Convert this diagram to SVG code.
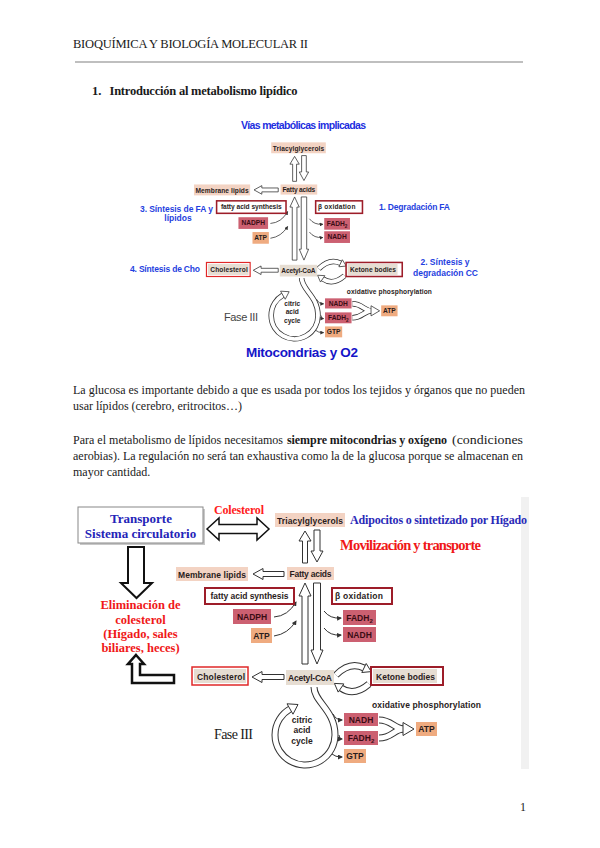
<svg xmlns="http://www.w3.org/2000/svg" width="600" height="848" viewBox="0 0 600 848">
<defs>
<style>
.serif{font-family:"Liberation Serif","Times New Roman",serif;fill:#1a1a1a}
.lbl{font-family:"Liberation Sans",Arial,sans-serif;font-weight:bold;font-size:8.5px;fill:#2a1c1c;text-anchor:middle}
.lbls{font-family:"Liberation Sans",Arial,sans-serif;font-weight:bold;font-size:8.5px;fill:#2a1c1c}
.rl{font-family:"Liberation Sans",Arial,sans-serif;font-weight:bold;font-size:8.5px;fill:#3a0c14;text-anchor:middle}
.peach{fill:#f3d3c3}
.beige{fill:#e6ddd2}
.rose{fill:#cc6071}
.orng{fill:#efab80}
.dred{fill:#fff;stroke:#9d1d29;stroke-width:2}
.blk{fill:#fff;stroke:#333;stroke-width:1}
.bo{fill:none;stroke:#333;stroke-width:7}
.bi{fill:none;stroke:#fff;stroke-width:5}
.thin{fill:none;stroke:#333;stroke-width:1;marker-end:url(#ah)}
.blue{font-family:"Liberation Sans",Arial,sans-serif;font-weight:bold}
.bs{font-family:"Liberation Serif","Times New Roman",serif;font-weight:bold}
</style>
<marker id="ah" viewBox="0 0 10 10" refX="8" refY="5" markerWidth="5" markerHeight="5" orient="auto"><path d="M0,0 L10,5 L0,10 z" fill="#333"/></marker>
</defs>
<rect width="600" height="848" fill="#fff"/>

<g id="page-text">
<text class="serif" x="73" y="48" font-size="12.5" textLength="235">BIOQUÍMICA Y BIOLOGÍA MOLECULAR II</text>
<line x1="75" y1="62" x2="523" y2="62" stroke="#aaa" stroke-width="1.5"/>
<text class="serif" x="92" y="95" font-size="12.5" font-weight="bold">1.</text>
<text class="serif" x="109.5" y="95" font-size="12.5" font-weight="bold" textLength="188">Introducción al metabolismo lipídico</text>
<text class="serif" x="73" y="394" font-size="12" textLength="452">La glucosa es importante debido a que es usada por todos los tejidos y órganos que no pueden</text>
<text class="serif" x="73" y="410" font-size="12" textLength="169">usar lípidos (cerebro, eritrocitos…)</text>
<text class="serif" x="73" y="444" font-size="12" textLength="210">Para el metabolismo de lípidos necesitamos</text>
<text class="serif" x="287" y="444" font-size="12" font-weight="bold" textLength="160">siempre mitocondrias y oxígeno</text>
<text class="serif" x="452" y="444" font-size="12" textLength="71" lengthAdjust="spacingAndGlyphs">(condiciones</text>
<text class="serif" x="73" y="460" font-size="12" textLength="450">aerobias). La regulación no será tan exhaustiva como la de la glucosa porque se almacenan en</text>
<text class="serif" x="73" y="476" font-size="12">mayor cantidad.</text>
<text class="serif" x="520" y="811" font-size="12">1</text>
</g>

<!-- ===== TOP DIAGRAM ===== -->
<g id="top-diagram">
<g transform="matrix(0.78 0 0 0.78 56.7 -257.8)">
<g id="t-connectors">
<polygon class="blk" points="305,531 311,541 307.5,541 307.5,563 302.5,563 302.5,541 299,541"/>
<polygon class="blk" points="314,530 320,530 320,551 323,551 317,562 311,551 314,551"/>
<polygon class="blk" points="253,574 263,568.5 263,571.5 284,571.5 284,576.5 263,576.5 263,579.5"/>
<polygon class="blk" points="305,583 311,596 308,596 308,664 302,664 302,596 299,596"/>
<polygon class="blk" points="313.5,583 320.5,583 320.5,650 323,650 317,664 311,650 313.5,650"/>
<polygon class="blk" points="252,677 262,671.5 262,674.5 284,674.5 284,679.5 262,679.5 262,682.5"/>
<path class="thin" d="M274,617 Q288,616 296,602"/>
<path class="thin" d="M274,636 Q288,634 296,621"/>
<path class="thin" d="M324,611 Q330,619 341,618"/>
<path class="thin" d="M324,628 Q330,636 341,635"/>
<path class="bo" d="M336,675 Q350,661 364,668"/><path class="bi" d="M336,675 Q350,661 364,668"/>
<polygon class="blk" points="366.2,663.5 371.2,671.6 361.8,672.5"/>
<path class="bo" d="M369,684 Q354,697 341,688"/><path class="bi" d="M369,684 Q354,697 341,688"/>
<polygon class="blk" points="343.8,683.9 334.4,683.4 338.2,692.1"/>
<path class="bo" d="M314,687 C314,702 335,710 335,735 A30,30 0 1 1 290,709"/>
<path class="bi" d="M314,687 C314,702 335,710 335,735 A30,30 0 1 1 290,709"/>
<polygon class="blk" points="293,714.2 298,704.5 287,703.8"/>
<path class="thin" d="M333,714 Q336,720 342,720"/>
<path class="thin" d="M339,735 Q339,739 342,739"/>
<path class="thin" d="M332,754 Q335,757 342,757"/>
<path class="bo" d="M379,720 C392,720 394,729 404,729"/><path class="bo" d="M379,738 C392,738 394,729 404,729"/>
<path class="bi" d="M379,720 C392,720 394,729 404,729"/><path class="bi" d="M379,738 C392,738 394,729 404,729"/>
<polygon class="blk" points="403,722.5 414,729 403,735.5"/>
</g>
<g id="t-triacylglycerols"><rect class="peach" x="275" y="513" width="70" height="14"/><text class="lbl" x="310" y="523.5" textLength="66">Triacylglycerols</text></g>
<g id="t-fatty-acids"><rect class="peach" x="287" y="567" width="47" height="13"/><text class="lbl" x="310.5" y="576.8" textLength="42">Fatty acids</text></g>
<g id="t-membrane-lipids"><rect class="peach" x="176" y="567" width="72" height="14"/><text class="lbl" x="212" y="577.5" textLength="68">Membrane lipids</text></g>
<g id="t-fa-synthesis"><rect class="dred" x="205" y="588" width="89" height="16"/><text class="lbl" x="249.5" y="599" textLength="78">fatty acid synthesis</text></g>
<g id="t-b-oxidation"><rect class="dred" x="332" y="588" width="60" height="16"/><text class="lbls" x="335" y="599" textLength="48">β oxidation</text></g>
<g id="t-nadph"><rect class="rose" x="233" y="609" width="38" height="15"/><text class="rl" x="252" y="619.5">NADPH</text></g>
<g id="t-atp1"><rect class="orng" x="251" y="628" width="21" height="15"/><text class="lbl" x="261.5" y="638.5">ATP</text></g>
<g id="t-fadh2a"><rect class="rose" x="343" y="610" width="33" height="15"/><text class="rl" x="359.5" y="620.5">FADH<tspan font-size="6" dy="2">2</tspan></text></g>
<g id="t-nadha"><rect class="rose" x="343" y="627" width="33" height="15"/><text class="rl" x="359.5" y="637.5">NADH</text></g>
<g id="t-cholesterol"><rect x="192" y="667" width="56" height="18" fill="#fff" stroke="#e02828" stroke-width="1.5"/><rect class="beige" x="194" y="669" width="52" height="14"/><text class="lbl" x="221" y="679.5" textLength="48">Cholesterol</text></g>
<g id="t-acetyl-coa"><rect class="beige" x="286" y="670" width="48" height="15"/><text class="lbl" x="310" y="680.5" textLength="44">Acetyl-CoA</text></g>
<g id="t-ketone-bodies"><rect class="dred" x="371" y="667" width="72" height="18"/><rect class="beige" x="373" y="669" width="64" height="14"/><text class="lbls" x="376" y="679.5" textLength="59">Ketone bodies</text></g>
<g id="t-oxphos"><text class="lbls" x="372" y="708" textLength="109" fill="#333">oxidative phosphorylation</text></g>
<g id="t-nadhb"><rect class="rose" x="344" y="713" width="34" height="13"/><text class="rl" x="361" y="722.5">NADH</text></g>
<g id="t-fadh2b"><rect class="rose" x="344" y="731" width="34" height="14"/><text class="rl" x="361" y="741">FADH<tspan font-size="6" dy="2">2</tspan></text></g>
<g id="t-gtp"><rect class="orng" x="344" y="749" width="22" height="14"/><text class="lbl" x="355" y="759">GTP</text></g>
<g id="t-atp2"><rect class="orng" x="416" y="722" width="21" height="14"/><text class="lbl" x="426.5" y="732">ATP</text></g>
<g id="t-cycle"><text class="lbl" x="302" y="723">citric</text><text class="lbl" x="302" y="733">acid</text><text class="lbl" x="302" y="744">cycle</text></g>
</g>
<g id="t-labels" fill="#1f3fe0" font-size="8.5">
<text class="blue" x="303.5" y="129" font-size="10.5" fill="#1c2ee0" text-anchor="middle" textLength="125">Vías metabólicas implicadas</text>
<text class="blue" x="140" y="212" textLength="73">3. Síntesis de FA y</text>
<text class="blue" x="178" y="220.5" text-anchor="middle">lípidos</text>
<text class="blue" x="379" y="210" textLength="71">1. Degradación FA</text>
<text class="blue" x="130" y="272" textLength="70">4. Síntesis de Cho</text>
<text class="blue" x="445" y="265" text-anchor="middle">2. Síntesis y</text>
<text class="blue" x="445.5" y="276" text-anchor="middle" textLength="65">degradación CC</text>
<text x="224" y="321" font-family="Liberation Sans,Arial,sans-serif" font-size="11" fill="#444" textLength="34">Fase III</text>
<text class="blue" x="302" y="357" font-size="13.5" fill="#1515c8" text-anchor="middle" textLength="112">Mitocondrias y O2</text>
</g>
</g>

<!-- ===== BOTTOM DIAGRAM ===== -->
<g id="bottom-diagram">
<rect x="521" y="497" width="8" height="272" fill="#f1f1f1"/>
<g id="b-connectors">
<polygon points="207,529 219,518 219,524.5 257,524.5 257,518 269,529 257,540 257,533.5 219,533.5 219,540" fill="#fff" stroke="#111" stroke-width="1.5"/>
<polygon points="128,547 144,547 144,583 152,583 136.5,598 121,583 128,583" fill="#fff" stroke="#111" stroke-width="2"/>
<polygon points="136,655 144,664 140,664 140,675 174,675 174,683 132,683 132,664 128,664" fill="#fff" stroke="#111" stroke-width="2.5"/>
<polygon class="blk" points="305,531 311,541 307.5,541 307.5,563 302.5,563 302.5,541 299,541"/>
<polygon class="blk" points="314,530 320,530 320,551 323,551 317,562 311,551 314,551"/>
<polygon class="blk" points="253,574 263,568.5 263,571.5 284,571.5 284,576.5 263,576.5 263,579.5"/>
<polygon class="blk" points="305,583 311,596 308,596 308,664 302,664 302,596 299,596"/>
<polygon class="blk" points="313.5,583 320.5,583 320.5,650 323,650 317,664 311,650 313.5,650"/>
<polygon class="blk" points="252,677 262,671.5 262,674.5 284,674.5 284,679.5 262,679.5 262,682.5"/>
<path class="thin" d="M274,617 Q288,616 296,602"/>
<path class="thin" d="M274,636 Q288,634 296,621"/>
<path class="thin" d="M324,611 Q330,619 341,618"/>
<path class="thin" d="M324,628 Q330,636 341,635"/>
<path class="bo" d="M336,675 Q350,661 364,668"/><path class="bi" d="M336,675 Q350,661 364,668"/>
<polygon class="blk" points="366.2,663.5 371.2,671.6 361.8,672.5"/>
<path class="bo" d="M369,684 Q354,697 341,688"/><path class="bi" d="M369,684 Q354,697 341,688"/>
<polygon class="blk" points="343.8,683.9 334.4,683.4 338.2,692.1"/>
<path class="bo" d="M314,687 C314,702 335,710 335,735 A30,30 0 1 1 290,709"/>
<path class="bi" d="M314,687 C314,702 335,710 335,735 A30,30 0 1 1 290,709"/>
<polygon class="blk" points="293,714.2 298,704.5 287,703.8"/>
<path class="thin" d="M333,714 Q336,720 342,720"/>
<path class="thin" d="M339,735 Q339,739 342,739"/>
<path class="thin" d="M332,754 Q335,757 342,757"/>
<path class="bo" d="M379,720 C392,720 394,729 404,729"/><path class="bo" d="M379,738 C392,738 394,729 404,729"/>
<path class="bi" d="M379,720 C392,720 394,729 404,729"/><path class="bi" d="M379,738 C392,738 394,729 404,729"/>
<polygon class="blk" points="403,722.5 414,729 403,735.5"/>
</g>
<g id="b-transporte"><rect x="80" y="509" width="125" height="36" fill="#c8c8c8"/><rect x="78" y="507" width="125" height="36" fill="#fff" stroke="#888" stroke-width="1"/>
<text class="bs" x="141" y="523" font-size="13" fill="#2424b8" text-anchor="middle">Transporte</text>
<text class="bs" x="140.5" y="538" font-size="13" fill="#2424b8" text-anchor="middle">Sistema circulatorio</text></g>
<g id="b-colesterol-label"><text class="bs" x="239" y="514" font-size="12" fill="#ff1c1c" text-anchor="middle" textLength="50">Colesterol</text></g>
<g id="b-adipocitos"><text class="bs" x="350" y="524" font-size="12" fill="#2a2ab8" textLength="177">Adipocitos o sintetizado por Hígado</text></g>
<g id="b-movilizacion"><text class="bs" x="340" y="550" font-size="14.5" fill="#f01818" textLength="141">Movilización y transporte</text></g>
<g id="b-eliminacion"><text class="bs" font-size="12.5" fill="#f01818" text-anchor="middle">
<tspan x="140.5" y="609">Eliminación de</tspan><tspan x="140.5" y="623.5">colesterol</tspan><tspan x="140.5" y="638">(Hígado, sales</tspan><tspan x="140.5" y="652">biliares, heces)</tspan></text></g>
<g id="b-triacylglycerols"><rect class="peach" x="275" y="513" width="70" height="14"/><text class="lbl" x="310" y="523.5" textLength="66">Triacylglycerols</text></g>
<g id="b-fatty-acids"><rect class="peach" x="287" y="567" width="47" height="13"/><text class="lbl" x="310.5" y="576.8" textLength="42">Fatty acids</text></g>
<g id="b-membrane-lipids"><rect class="peach" x="176" y="567" width="72" height="14"/><text class="lbl" x="212" y="577.5" textLength="68">Membrane lipids</text></g>
<g id="b-fa-synthesis"><rect class="dred" x="205" y="588" width="89" height="16"/><text class="lbl" x="249.5" y="599" textLength="78">fatty acid synthesis</text></g>
<g id="b-b-oxidation"><rect class="dred" x="332" y="588" width="60" height="16"/><text class="lbls" x="335" y="599" textLength="48">β oxidation</text></g>
<g id="b-nadph"><rect class="rose" x="233" y="609" width="38" height="15"/><text class="rl" x="252" y="619.5">NADPH</text></g>
<g id="b-atp1"><rect class="orng" x="251" y="628" width="21" height="15"/><text class="lbl" x="261.5" y="638.5">ATP</text></g>
<g id="b-fadh2a"><rect class="rose" x="343" y="610" width="33" height="15"/><text class="rl" x="359.5" y="620.5">FADH<tspan font-size="6" dy="2">2</tspan></text></g>
<g id="b-nadha"><rect class="rose" x="343" y="627" width="33" height="15"/><text class="rl" x="359.5" y="637.5">NADH</text></g>
<g id="b-cholesterol"><rect x="192" y="667" width="56" height="18" fill="#fff" stroke="#e02828" stroke-width="1.5"/><rect class="beige" x="194" y="669" width="52" height="14"/><text class="lbl" x="221" y="679.5" textLength="48">Cholesterol</text></g>
<g id="b-acetyl-coa"><rect class="beige" x="286" y="670" width="48" height="15"/><text class="lbl" x="310" y="680.5" textLength="44">Acetyl-CoA</text></g>
<g id="b-ketone-bodies"><rect class="dred" x="371" y="667" width="72" height="18"/><rect class="beige" x="373" y="669" width="64" height="14"/><text class="lbls" x="376" y="679.5" textLength="59">Ketone bodies</text></g>
<g id="b-oxphos"><text class="lbls" x="372" y="708" textLength="109" fill="#333">oxidative phosphorylation</text></g>
<g id="b-nadhb"><rect class="rose" x="344" y="713" width="34" height="13"/><text class="rl" x="361" y="722.5">NADH</text></g>
<g id="b-fadh2b"><rect class="rose" x="344" y="731" width="34" height="14"/><text class="rl" x="361" y="741">FADH<tspan font-size="6" dy="2">2</tspan></text></g>
<g id="b-gtp"><rect class="orng" x="344" y="749" width="22" height="14"/><text class="lbl" x="355" y="759">GTP</text></g>
<g id="b-atp2"><rect class="orng" x="416" y="722" width="21" height="14"/><text class="lbl" x="426.5" y="732">ATP</text></g>
<g id="b-cycle"><text class="lbl" x="302" y="723">citric</text><text class="lbl" x="302" y="733">acid</text><text class="lbl" x="302" y="744">cycle</text></g>
<g id="b-fase"><text class="serif" x="214" y="739" font-size="14" fill="#333" textLength="39">Fase III</text></g>
</g>
</svg>
